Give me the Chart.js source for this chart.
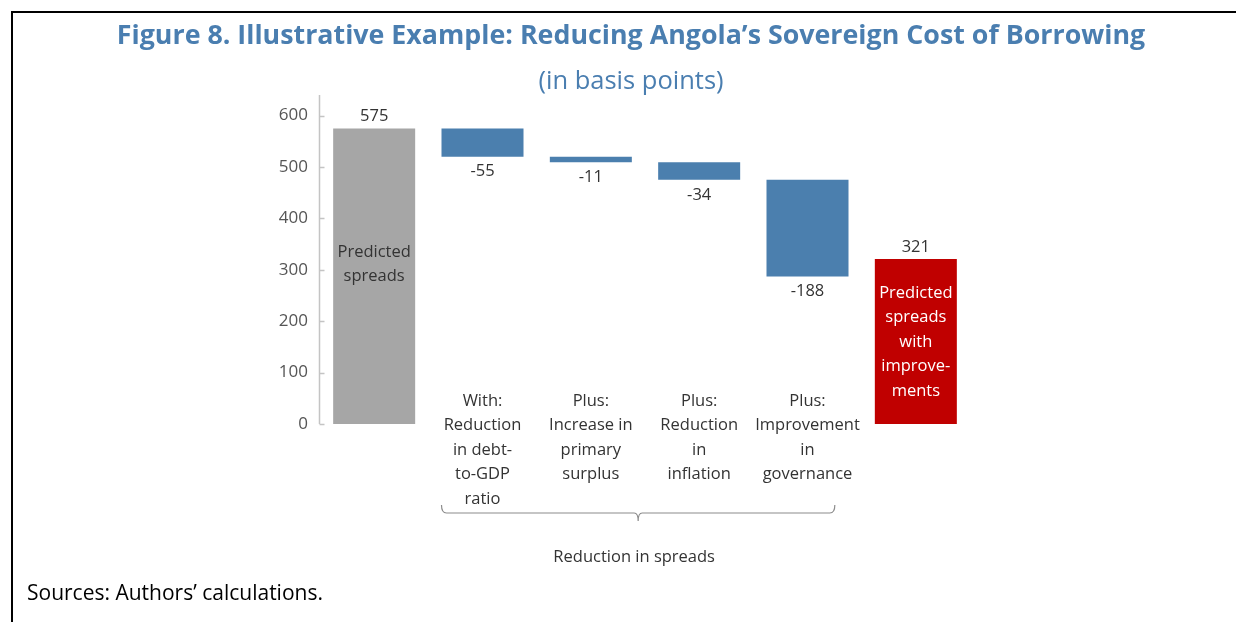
<!DOCTYPE html>
<html>
<head>
<meta charset="utf-8">
<script src="https://cdn.jsdelivr.net/npm/chart.js@4.4.1/dist/chart.umd.min.js"></script>
<style>
  html, body { margin: 0; padding: 0; background: #fff; }
  #wrap { position: relative; width: 1236px; height: 622px; overflow: hidden; font-family: "Open Sans", sans-serif; }
  #frame { position: absolute; left: 11px; top: 11px; right: -5px; bottom: -5px; border-top: 2px solid #000; border-left: 2px solid #000; }
  #title { position: absolute; left: 0; width: 1262px; top: 14px; text-align: center; color: #4a7eb0; font-weight: 700; font-size: 26.8px; line-height: 40px; white-space: nowrap; }
  #subtitle { position: absolute; left: 0; width: 1262px; top: 60px; text-align: center; color: #4a7eb0; font-size: 25.5px; line-height: 38px; white-space: nowrap; }
  #source { position: absolute; left: 27px; top: 576px; color: #000; font-size: 21px; line-height: 32px; white-space: nowrap; }
  #c { position: absolute; left: 0; top: 0; }
</style>
</head>
<body>
<div id="wrap">
  <canvas id="c" width="1236" height="622"></canvas>
  <div id="frame"></div>
  <div id="title">Figure 8. Illustrative Example: Reducing Angola’s Sovereign Cost of Borrowing</div>
  <div id="subtitle">(in basis points)</div>
  <div id="source">Sources: Authors’ calculations.</div>
</div>
<script>
// ---- data ----
const categories = ["Predicted spreads", "With: Reduction in debt-to-GDP ratio", "Plus: Increase in primary surplus", "Plus: Reduction in inflation", "Plus: Improvement in governance", "Predicted spreads with improvements"];
const steps = [575, -55, -11, -34, -188, 321];      // first & last are totals
const valueLabels = ["575", "-55", "-11", "-34", "-188", "321"];
const insideLabels = [["Predicted", "spreads"], [], [], [], [], ["Predicted", "spreads", "with", "improve-", "ments"]];
const belowLabels = [[], ["With:", "Reduction", "in debt-", "to-GDP", "ratio"], ["Plus:", "Increase in", "primary", "surplus"], ["Plus:", "Reduction", "in", "inflation"], ["Plus:", "Improvement", "in", "governance"], []];
const groupLabel = "Reduction in spreads";
const yTicks = [0, 100, 200, 300, 400, 500, 600];

// build floating ranges
const ranges = [];
let run = 0;
steps.forEach((v, i) => {
  if (i === 0 || i === steps.length - 1) { ranges.push([0, v]); run = v; }
  else { ranges.push([run + v, run]); run = run + v; }
});
const colors = steps.map((v, i) => i === 0 ? "#a6a6a6" : (i === steps.length - 1 ? "#c00000" : "#4b7fae"));
const insideColors = ["#333333", null, null, null, null, "#ffffff"];

const FONT = '"Open Sans", sans-serif';

const annot = {
  id: "annot",
  afterDatasetsDraw(chart) {
    const ctx = chart.ctx;
    const y = chart.scales.y;
    const meta = chart.getDatasetMeta(0);
    ctx.save();
    // y axis line + inward ticks
    ctx.strokeStyle = "#c4c4c4";
    ctx.lineWidth = 1.5;
    const ax = chart.chartArea.left - 0.5;
    ctx.beginPath();
    ctx.moveTo(ax, chart.chartArea.top);
    ctx.lineTo(ax, y.getPixelForValue(0));
    yTicks.forEach(t => {
      const py = Math.round(y.getPixelForValue(t)) + 0.5;
      ctx.moveTo(ax, py); ctx.lineTo(ax + 5, py);
    });
    ctx.stroke();

    ctx.textAlign = "center";
    ctx.textBaseline = "middle";
    ctx.font = "16.5px " + FONT;
    meta.data.forEach((bar, i) => {
      const r = ranges[i];
      const isTotal = (i === 0 || i === steps.length - 1);
      ctx.fillStyle = "#333333";
      if (isTotal) {
        ctx.fillText(valueLabels[i], bar.x, y.getPixelForValue(r[1]) - 12);
      } else {
        ctx.fillText(valueLabels[i], bar.x, y.getPixelForValue(r[0]) + 15);
      }
      // inside labels
      const lines = insideLabels[i];
      if (lines.length) {
        ctx.fillStyle = insideColors[i];
        const lh = 24.5;
        const cy = i === 0 ? y.getPixelForValue(r[1] / 2) - 24 : y.getPixelForValue(r[1]) + 34;
        lines.forEach((ln, k) => {
          ctx.fillText(ln, bar.x, cy + k * lh);
        });
      }
      // below labels
      const bl = belowLabels[i];
      if (bl.length) {
        ctx.fillStyle = "#333333";
        const top = y.getPixelForValue(0) - 23;
        bl.forEach((ln, k) => ctx.fillText(ln, bar.x, top + k * 24.5));
      }
    });

    // brace under reductions
    const b1 = meta.data[1], b4 = meta.data[4];
    const bx0 = b1.x - b1.width / 2;
    const bx1 = b4.x + b4.width / 3;
    const by = y.getPixelForValue(0) + 89;
    const mid = (bx0 + bx1) / 2;
    ctx.strokeStyle = "#8c8c8c";
    ctx.lineWidth = 1.2;
    ctx.beginPath();
    ctx.moveTo(bx0, by - 8);
    ctx.quadraticCurveTo(bx0, by, bx0 + 5, by);
    ctx.lineTo(mid - 4, by);
    ctx.quadraticCurveTo(mid, by, mid, by + 8);
    ctx.quadraticCurveTo(mid, by, mid + 4, by);
    ctx.lineTo(bx1 - 5, by);
    ctx.quadraticCurveTo(bx1, by, bx1, by - 8);
    ctx.stroke();
    ctx.fillStyle = "#333333";
    ctx.fillText(groupLabel, mid - 4, by + 44);
    ctx.restore();
  }
};

new Chart(document.getElementById("c"), {
  type: "bar",
  data: {
    labels: categories,
    datasets: [{
      data: ranges,
      backgroundColor: colors,
      borderWidth: 0,
      barPercentage: 0.757,
      categoryPercentage: 1.0
    }]
  },
  options: {
    responsive: false,
    animation: false,
    events: [],
    layout: { padding: { left: 260, right: 266, top: 95, bottom: 198 } },
    plugins: { legend: { display: false }, tooltip: { enabled: false }, title: { display: false } },
    scales: {
      x: { display: false, offset: true, grid: { display: false } },
      y: {
        min: 0, max: 640,
        grid: { display: false, drawTicks: false },
        border: { display: false },
        ticks: { stepSize: 100, includeBounds: false, padding: 12, color: "#555555", font: { family: FONT, size: 17 } },
        afterFit(scale) { scale.width = 60; }
      }
    }
  },
  plugins: [annot]
});
</script>
</body>
</html>
